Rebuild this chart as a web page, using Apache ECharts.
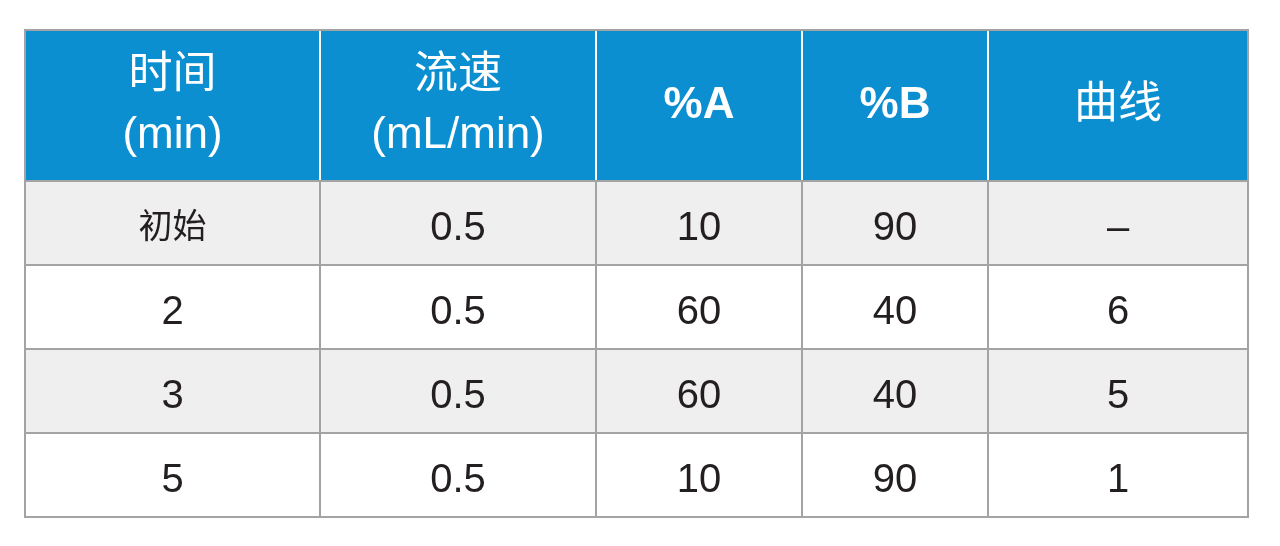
<!DOCTYPE html>
<html><head><meta charset="utf-8">
<script src="https://cdn.jsdelivr.net/npm/echarts@6/dist/echarts.min.js"></script>
<style>html,body{margin:0;background:#fff}#c{width:1280px;height:546px}</style>
</head><body><div id="c"></div>
<script>
const headers = ['时间\n(min)', '流速\n(mL/min)', '%A', '%B', '曲线'];
const times = ['初始', '2', '3', '5'];
const flows = ['0.5', '0.5', '0.5', '0.5'];
const pctA = ['10', '60', '60', '10'];
const pctB = ['90', '40', '40', '90'];
const curves = ['–', '6', '5', '1'];

// layout (pixels)
const colEdges = [25, 320, 596, 802, 988, 1248];
const rowEdges = [30, 181, 265, 349, 433, 517];

const rows = [headers];
for (let i = 0; i < times.length; i++) rows.push([times[i], flows[i], pctA[i], pctB[i], curves[i]]);
const data = [];
rows.forEach((r, ri) => r.forEach((t, ci) => data.push([ci, ri, t])));

const chart = echarts.init(document.getElementById('c'));
chart.setOption({
  animation: false,
  xAxis: {show: false, min: 0, max: 1}, yAxis: {show: false, min: 0, max: 1},
  grid: {left: 0, right: 0, top: 0, bottom: 0},
  series: [{
    type: 'custom',
    data: data,
    renderItem: function (params, api) {
      const c = api.value(0), r = api.value(1), txt = data[params.dataIndex][2];
      const x0 = colEdges[c], x1 = colEdges[c + 1], y0 = rowEdges[r], y1 = rowEdges[r + 1];
      const head = r === 0;
      const fill = head ? '#0b8fd1' : (r % 2 === 1 ? '#efeff0' : '#ffffff');
      let font;
      if (head) font = (c === 2 || c === 3 ? 'bold 44px ' : '44px ');
      else font = (/[0-9–]/.test(txt) ? '40px ' : '34px ');
      font += '"Liberation Sans", "Noto Sans CJK SC", sans-serif';
      return {
        type: 'group',
        children: [
          {type: 'rect', shape: {x: x0, y: y0, width: x1 - x0, height: y1 - y0},
           style: {fill: fill, stroke: head ? '#ffffff' : '#a3a3a3', lineWidth: 2}},
          {type: 'text', style: {x: (x0 + x1) / 2, y: (y0 + y1) / 2 + (head ? 0 : 6), text: txt,
            align: 'center', verticalAlign: 'middle', fill: head ? '#ffffff' : '#231f20',
            font: font, lineHeight: 60}}
        ]
      };
    }
  }, {
    type: 'custom', data: [0], z: 5,
    renderItem: function () {
      return {type: 'rect', shape: {x: colEdges[0], y: rowEdges[0], width: colEdges[5] - colEdges[0], height: rowEdges[5] - rowEdges[0]},
        style: {fill: 'none', stroke: '#a3a3a3', lineWidth: 2}};
    }
  }]
});
</script></body></html>
